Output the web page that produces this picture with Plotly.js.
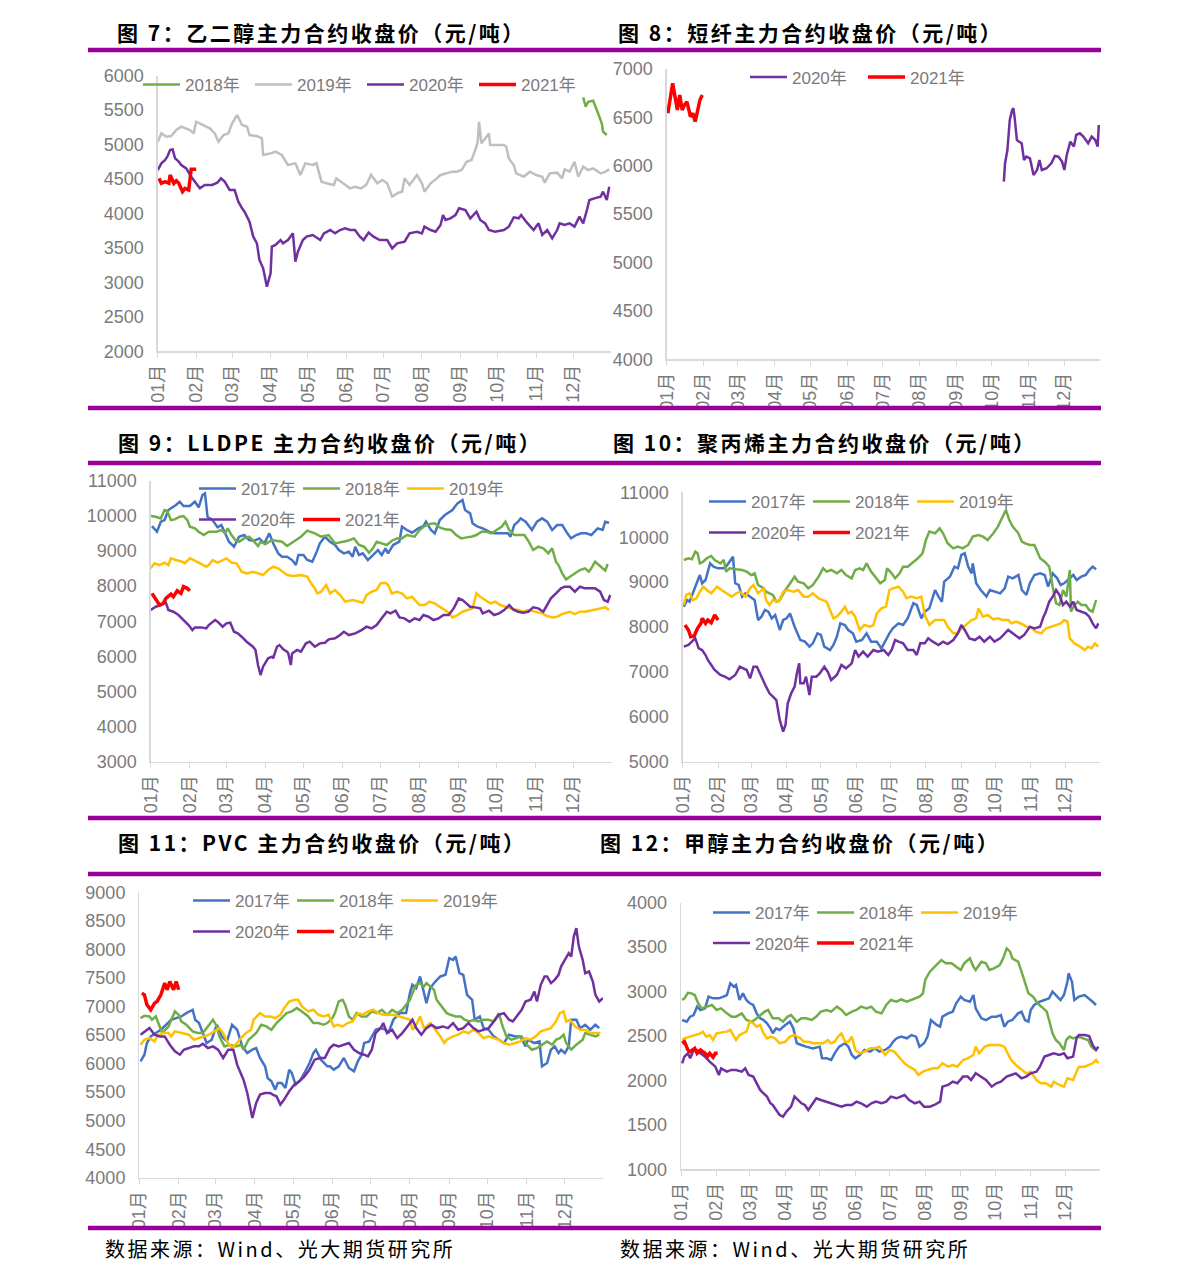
<!DOCTYPE html>
<html><head><meta charset="utf-8">
<script src="https://cdn.plot.ly/plotly-3.0.1.min.js"></script>
<style>
html,body{margin:0;padding:0;background:#fff;}
#chart{width:1191px;height:1279px;}
.annotation-text{letter-spacing:2.5px;}
</style></head>
<body><div id="chart"></div>
<script>
// ---------- DATA (day-of-year offsets from Jan 1, values in 元/吨) ----------
const monthTickFormat = '%m月';
const seriesNames = ['2017年','2018年','2019年','2020年','2021年'];

// 图7 乙二醇
const c7_2018_d = [343,345,347,351,354,356,358,359,362];
const c7_2018_v = [5686,5550,5622,5637,5502,5405,5308,5187,5139];
const c7_2019_d = [0,3,7,11,15,19,26,29,31,37,42,46,49,53,57,60,64,68,72,74,80,84,85,91,95,100,105,111,113,115,119,125,128,132,136,142,144,148,152,155,159,164,168,172,177,181,185,189,194,197,199,203,209,213,215,220,225,228,233,237,241,245,249,253,256,258,259,261,264,267,268,273,279,281,283,287,289,295,300,305,310,312,316,322,326,328,332,336,339,343,347,351,357,361,364];
const c7_2019_v = [5042,5163,5115,5124,5212,5260,5212,5163,5332,5284,5236,5163,5042,5139,5163,5308,5429,5284,5260,5139,5124,5090,4849,4873,4897,4849,4704,4728,4655,4558,4728,4704,4728,4462,4438,4414,4510,4462,4414,4365,4389,4365,4414,4559,4438,4486,4438,4244,4302,4317,4510,4414,4559,4438,4317,4438,4510,4559,4583,4607,4607,4631,4752,4776,4921,5042,5332,5018,5090,5163,4994,4994,4994,4970,4800,4704,4583,4534,4607,4559,4534,4447,4583,4593,4510,4641,4607,4752,4534,4680,4631,4655,4583,4607,4641];
const c7_2020_d = [0,3,6,8,10,12,14,17,19,23,27,31,34,38,44,48,51,54,58,62,65,68,70,74,77,80,82,85,88,91,92,95,99,101,105,109,111,113,117,120,125,131,134,139,143,147,151,155,159,163,166,170,174,179,185,189,193,199,203,209,213,215,220,224,228,230,232,236,240,243,248,252,257,260,264,267,272,279,283,287,291,293,297,303,307,310,314,318,322,324,328,332,336,340,343,346,348,352,357,359,362,364];
const c7_2020_v = [4631,4728,4776,4834,4921,4931,4800,4752,4704,4655,4534,4438,4365,4414,4414,4447,4510,4462,4341,4341,4172,4075,4027,3881,3664,3567,3325,3204,2938,3132,3519,3543,3615,3567,3615,3712,3301,3446,3615,3664,3688,3615,3712,3760,3712,3760,3785,3760,3760,3664,3615,3722,3664,3615,3615,3494,3567,3591,3712,3736,3712,3809,3760,3736,3833,3978,3906,3930,3978,4075,4051,3930,4027,3906,3857,3760,3736,3760,3809,3944,3930,3978,3881,3760,3857,3688,3760,3639,3760,3857,3833,3857,3809,3954,3857,4051,4196,4220,4244,4317,4196,4389];
const c7_2021_d = [1,3,6,9,10,13,15,17,20,22,25,26,27,29,31];
const c7_2021_v = [4510,4438,4462,4438,4559,4438,4476,4438,4317,4365,4341,4486,4641,4641,4641];

// 图8 短纤
const c8_2020_d = [284,285,287,289,291,292,293,295,297,299,301,303,306,309,312,314,316,320,324,327,330,333,335,337,340,343,345,348,351,355,358,361,363,364];
const c8_2020_v = [5836,6025,6163,6473,6576,6594,6507,6266,6249,6232,6060,6094,6077,5905,5956,6060,5956,5974,6025,6101,6094,6043,5956,6111,6249,6198,6318,6335,6301,6232,6301,6266,6198,6421];
const c8_2021_d = [1,3,5,7,9,11,13,15,17,20,22,24,26,28,30];
const c8_2021_v = [6542,6714,6852,6714,6576,6731,6576,6628,6662,6507,6542,6456,6576,6680,6731];

// 图9 LLDPE
const c9_2017_d = [1,5,8,11,14,16,20,23,26,31,35,38,41,43,45,49,53,56,59,62,66,70,74,78,82,86,90,94,97,101,104,108,112,115,117,121,124,128,131,134,138,142,146,149,153,157,160,162,165,168,172,176,180,183,186,188,192,197,199,203,207,212,216,218,222,225,229,233,239,243,247,249,253,255,259,263,268,272,277,283,285,288,291,293,297,302,306,310,314,318,322,326,330,333,337,341,345,349,354,358,360,363];
const c9_2017_v = [9709,9548,9833,9880,10165,10212,10307,10402,10279,10279,10402,10241,10592,10639,9975,9880,9671,9738,9501,9263,9121,9406,9453,9311,9292,9358,9216,9501,9216,8931,8836,8836,8741,8599,8884,8884,8741,8694,8931,9216,9406,9263,9168,9026,8931,8978,8836,9121,8884,8931,8741,8884,9026,8884,9074,8931,9168,9263,9690,9596,9520,9643,9709,9833,9596,9501,9880,10023,10165,10355,10450,10165,10070,9785,9690,9643,9548,9501,9501,9501,9406,9738,9833,9928,9833,9596,9833,9928,9833,9596,9738,9738,9501,9358,9453,9501,9501,9453,9643,9596,9833,9804];
const c9_2018_d = [0,4,8,11,13,16,19,23,26,29,31,35,38,42,46,52,56,59,61,64,67,70,74,78,82,85,87,91,96,100,104,108,113,119,124,130,135,141,146,152,156,161,165,169,173,176,179,183,187,191,195,199,203,209,213,217,221,225,229,233,238,242,246,250,254,258,262,266,270,274,278,281,284,288,292,296,299,303,307,311,315,318,321,323,326,329,332,336,340,344,347,349,352,355,358,360,362];
const c9_2018_v = [9994,9975,9928,10165,10146,9880,9899,9975,9994,9880,9690,9643,9548,9453,9548,9548,9596,9501,9643,9453,9311,9263,9358,9406,9263,9140,9263,9197,9311,9292,9263,9140,9263,9406,9577,9501,9406,9453,9216,9263,9292,9358,9168,9121,8950,9074,9263,9216,9168,9292,9358,9358,9453,9406,9596,9709,9766,9785,9671,9615,9596,9453,9358,9387,9406,9453,9548,9548,9501,9596,9690,9833,9596,9453,9453,9453,9292,9026,9121,9074,8931,9074,8694,8599,8362,8191,8267,8362,8457,8504,8409,8504,8694,8599,8504,8438,8628];
const c9_2019_d = [0,3,7,11,14,16,20,25,27,31,35,40,44,46,49,53,57,60,64,68,72,76,81,85,89,93,97,101,105,108,113,119,124,127,130,132,135,139,142,146,150,154,160,164,168,171,175,179,182,186,188,191,195,199,203,207,213,217,221,225,229,233,236,239,243,247,251,255,258,261,265,269,273,277,281,285,291,295,299,304,310,314,318,322,326,332,336,340,344,348,352,356,360,363];
const c9_2019_v = [8504,8647,8599,8666,8599,8789,8741,8694,8647,8789,8722,8627,8552,8599,8741,8666,8741,8789,8666,8647,8409,8362,8409,8362,8314,8457,8552,8504,8409,8314,8286,8314,8267,8077,7935,7792,7840,8030,7792,7887,7745,7555,7603,7555,7527,7745,7840,7887,8077,8096,8030,7792,7840,7792,7650,7697,7460,7460,7555,7508,7413,7318,7242,7109,7175,7270,7318,7365,7792,7697,7603,7508,7555,7460,7413,7365,7318,7270,7318,7270,7223,7147,7109,7128,7204,7270,7204,7270,7270,7299,7337,7365,7394,7318];
const c9_2020_d = [0,4,8,12,14,18,22,26,30,33,35,40,44,46,51,53,57,60,63,66,69,72,76,81,83,85,87,89,93,96,97,100,102,105,108,109,111,112,116,119,123,126,130,134,138,141,146,150,153,157,162,167,171,175,179,183,187,190,194,197,201,205,209,213,216,220,224,228,232,236,240,244,247,250,253,257,261,263,268,272,276,280,284,287,291,295,299,303,307,311,314,317,321,325,328,332,336,340,344,348,352,356,359,362,364];
const c9_2020_v = [7318,7413,7460,7527,7318,7270,7175,7033,6891,6748,6824,6824,6796,6891,7033,6986,6843,6938,6957,6701,6653,6559,6416,6274,6179,5752,5467,5704,5942,5989,5942,6274,6321,6198,6132,6084,5752,6084,6179,6132,6369,6416,6274,6369,6388,6483,6512,6606,6701,6606,6653,6748,6843,6796,6891,7081,7270,7223,7299,7109,7081,6986,7081,7033,7175,7128,7033,7081,7175,7175,7365,7650,7603,7508,7413,7394,7365,7223,7299,7175,7223,7318,7460,7337,7270,7242,7270,7394,7365,7270,7460,7650,7792,7935,7982,7982,7840,7982,7935,7935,7935,7840,7603,7555,7745];
const c9_2021_d = [1,4,7,10,12,16,18,21,24,26,29,31];
const c9_2021_v = [7792,7603,7460,7508,7650,7773,7697,7868,7792,7982,7935,7868];

// 图10 聚丙烯
const c10_2017_d = [1,4,6,9,12,15,17,20,22,24,27,31,36,38,41,44,46,49,52,55,59,63,66,69,72,75,78,81,85,88,91,94,98,103,107,111,114,118,121,124,129,132,135,138,142,145,149,152,157,161,165,170,174,177,181,184,189,193,197,202,205,209,212,216,221,224,227,229,234,238,241,244,247,250,253,254,257,261,266,269,273,278,282,285,289,294,297,301,304,308,313,317,320,324,328,331,334,337,342,345,349,353,356,359,362];
const c10_2017_v = [8453,8601,8564,8750,8936,9158,8973,9047,9233,9418,9344,9307,9307,9344,9455,9567,8973,8936,8676,8750,8676,8601,8156,8230,8379,8341,8193,8267,7933,8156,8193,8304,8007,7710,7673,7562,7636,7859,7822,7562,7487,7599,7784,8081,8044,7933,7859,7673,7710,7859,7673,7673,7524,7673,7859,7970,8081,8044,8193,8527,8490,8193,8341,8416,8824,8676,8564,9010,9121,9344,9307,9604,9641,9344,9195,9418,8973,8824,8676,8824,8787,8750,8861,9121,9084,9158,8824,8713,8973,9158,9195,9158,8898,9195,9084,8936,8973,9047,9158,9047,9121,9158,9270,9344,9285];
const c10_2018_d = [1,5,8,11,13,15,18,21,25,28,33,36,38,41,47,52,56,60,63,66,71,73,76,79,82,85,90,94,98,101,106,110,114,119,123,126,130,135,139,143,148,151,155,158,161,165,170,173,177,179,183,186,190,193,197,202,206,210,213,216,221,225,228,232,237,241,245,250,254,259,263,267,272,276,280,283,286,289,294,297,300,304,308,313,317,321,324,327,330,333,336,339,340,343,346,349,353,356,359,362];
const c10_2018_v = [9493,9530,9507,9678,9641,9418,9455,9530,9582,9493,9418,9493,9233,9307,9285,9270,9233,9158,9195,8936,8861,8787,8750,8713,8564,8601,8824,8973,9121,9010,8973,8861,8936,9121,9307,9233,9270,9195,9270,9158,9084,9270,9307,9270,9418,9233,9084,8973,9047,9307,9195,9084,9195,9344,9344,9455,9530,9641,9938,10124,10087,10198,10087,9864,9752,9790,9752,9827,10012,10049,10012,9938,10087,10235,10458,10606,10384,10235,10087,9901,9864,9827,9827,9530,9455,9344,8898,8527,8490,8824,8676,9270,8341,8490,8564,8490,8490,8379,8341,8601];
const c10_2019_d = [1,3,6,9,12,15,18,21,25,30,34,38,43,47,50,55,59,62,66,71,73,76,79,84,88,92,97,101,106,110,114,119,123,126,129,132,135,139,142,145,148,151,155,159,164,167,170,174,178,181,184,189,193,196,200,205,209,212,216,221,225,229,232,237,241,244,248,253,257,259,263,267,272,276,280,285,288,292,297,301,305,309,314,318,323,327,331,334,337,339,343,348,352,355,358,361,364];
const c10_2019_v = [8490,8713,8750,8601,8639,8787,8898,8824,8750,8898,8824,8750,8676,8750,8787,8676,8861,8936,8750,8861,8601,8490,8601,8564,8787,8824,8787,8824,8676,8676,8750,8639,8601,8564,8379,8193,8230,8341,8453,8304,8341,8230,7933,8044,8007,8044,8304,8416,8453,8824,8861,8898,8787,8639,8676,8639,8676,8267,8044,8156,8156,8156,8007,7859,7859,7970,8044,8156,8193,8416,8230,8267,8171,8193,8156,8156,8081,8119,8067,8007,7993,7896,7859,7970,8007,8044,8081,8156,8119,7747,7636,7562,7487,7562,7524,7636,7562];
const c10_2020_d = [1,5,8,11,14,17,20,22,25,28,33,37,41,46,50,53,56,59,62,65,68,71,73,76,79,82,85,88,90,92,95,98,100,102,103,106,108,111,113,117,120,124,127,130,135,139,143,148,151,154,158,162,167,171,176,180,183,186,189,193,197,202,205,208,212,215,219,224,228,232,237,241,244,247,251,256,260,264,269,273,278,282,285,289,295,299,304,308,313,316,318,321,324,327,330,333,336,339,342,345,349,353,356,359,362,364];
const c10_2020_v = [7562,7599,7673,7747,7524,7487,7376,7265,7153,7042,6931,6893,6834,6931,7116,7079,7042,6856,7116,7116,6931,6782,6671,6522,6448,6374,5928,5668,5817,6299,6522,6671,6968,7190,6745,6745,6893,6485,6893,6893,6968,7116,7005,6819,6931,7153,7079,7190,7487,7339,7450,7339,7487,7450,7487,7376,7487,7710,7673,7636,7487,7487,7376,7636,7636,7747,7673,7599,7673,7621,7710,7859,8044,7933,7747,7710,7784,7673,7784,7673,7747,7859,7933,7859,7747,7822,8007,7970,8007,8230,8341,8564,8676,8824,8713,8490,8564,8453,8564,8379,8341,8304,8230,8081,7970,8081];
const c10_2021_d = [2,5,7,10,13,16,17,20,22,25,28,31];
const c10_2021_v = [8044,7933,7784,7799,7970,8081,8193,8081,8156,8096,8267,8156];

// 图11 PVC
const c11_2017_d = [1,4,6,9,13,17,21,25,29,33,37,42,44,47,50,53,57,61,65,69,73,77,81,85,89,92,95,99,101,104,107,109,112,115,118,120,123,127,130,134,137,139,143,148,150,153,157,161,165,169,172,175,177,181,186,190,194,196,200,205,210,213,215,218,221,224,226,229,233,237,241,244,247,249,252,255,258,262,264,268,271,275,279,283,287,291,296,300,304,306,311,315,317,321,324,327,330,332,335,338,340,344,347,351,355,359,362];
const c11_2017_v = [6039,6156,6360,6476,6535,6593,6680,6768,6797,6826,6884,6943,6768,6710,6535,6360,6418,6680,6476,6389,6680,6593,6302,6185,6243,6272,6098,5952,5748,5690,5544,5661,5661,5573,5894,5836,5631,5719,5836,6010,6185,6243,6069,5952,5952,5894,5952,6098,5923,5865,6039,6156,6360,6389,6593,6622,6593,6535,6768,6884,6884,7234,7380,7322,7526,7234,7059,7322,7438,7526,7555,7846,7817,7875,7584,7555,7205,7118,6768,6826,6622,6593,6476,6418,6360,6506,6476,6476,6302,6418,6360,6389,5952,6010,6243,6302,6185,6243,6185,6302,6768,6768,6622,6680,6593,6680,6622];
const c11_2018_d = [1,4,8,10,13,16,18,23,25,28,31,33,37,42,46,50,54,58,61,63,67,71,76,80,82,86,89,92,96,100,104,108,112,116,120,124,128,133,137,141,145,148,152,154,157,160,162,165,168,171,175,179,183,187,191,195,199,203,207,210,213,215,218,221,224,226,229,232,234,237,240,242,245,249,253,256,260,263,267,271,275,279,283,286,289,293,297,301,305,309,313,317,321,325,328,331,334,336,340,344,349,351,355,359,362];
const c11_2018_v = [6797,6838,6826,6768,6826,6651,6535,6651,6768,6914,6855,6739,6680,6564,6535,6535,6651,6768,6651,6476,6302,6331,6302,6331,6243,6418,6476,6535,6680,6651,6593,6710,6797,6884,6914,6972,6914,6826,6710,6710,6680,6710,6797,6884,7088,7118,7030,6826,6768,6884,6826,6826,6914,6884,6943,6855,6943,6884,6943,7030,7118,7234,7380,7409,7351,7409,7351,7292,7118,7030,6943,6884,6855,6826,6826,6768,6739,6768,6739,6768,6768,6739,6884,6651,6476,6418,6447,6476,6331,6243,6272,6331,6389,6331,6418,6447,6506,6360,6243,6331,6418,6535,6506,6476,6506];
const c11_2019_d = [1,4,8,12,14,18,23,25,28,33,39,43,47,51,55,59,63,66,69,73,77,80,84,88,90,95,99,103,107,111,114,118,122,125,128,133,137,141,145,149,153,156,160,164,168,172,176,180,184,188,192,196,200,205,209,213,215,218,221,224,226,229,233,237,240,242,247,251,255,259,263,267,271,275,279,283,287,291,296,300,304,308,312,316,320,324,328,331,334,336,339,343,347,351,355,359,363];
const c11_2019_v = [6331,6418,6447,6389,6476,6535,6535,6476,6564,6535,6506,6418,6447,6476,6506,6564,6622,6535,6389,6272,6360,6447,6535,6593,6768,6884,6826,6826,6797,6855,6972,7088,7118,7118,7001,6914,6943,6855,6826,6855,6651,6680,6651,6710,6739,6884,6855,6914,6943,6884,6855,6855,6855,6826,6797,6768,6593,6680,6826,6622,6651,6710,6593,6476,6360,6418,6476,6506,6564,6535,6593,6535,6447,6476,6447,6418,6360,6331,6360,6389,6447,6418,6476,6564,6593,6622,6739,6884,6914,6739,6768,6651,6593,6593,6535,6535,6535];
const c11_2020_d = [1,5,8,12,16,20,24,28,32,35,39,43,47,50,54,58,62,66,70,74,77,80,82,85,88,89,92,95,99,103,105,108,111,114,118,122,126,130,134,138,142,146,150,153,157,161,165,169,173,177,180,183,186,190,192,195,199,203,207,211,215,218,222,226,230,234,239,243,247,251,255,259,263,267,271,275,279,283,287,291,294,297,301,304,308,311,313,316,319,321,324,327,330,332,335,338,340,342,344,346,349,351,354,357,359,362,365];
const c11_2020_v = [6506,6564,6622,6506,6476,6476,6331,6214,6156,6243,6272,6302,6302,6348,6272,6302,6243,6098,6243,6243,5981,5836,5719,5486,5194,5049,5311,5457,5486,5486,5457,5428,5282,5369,5515,5631,5690,5777,5894,6069,6098,6098,6272,6331,6302,6331,6360,6243,6185,6156,6127,6243,6535,6622,6710,6535,6593,6447,6535,6651,6768,6622,6506,6622,6680,6622,6651,6622,6710,6593,6622,6710,6622,6564,6593,6622,6739,6855,6884,6768,6739,6826,6943,7088,7118,7263,7088,7380,7526,7526,7409,7467,7555,7700,7817,7933,7875,8225,8371,8050,7817,7584,7613,7438,7205,7088,7147];
const c11_2021_d = [2,4,6,9,12,14,17,20,22,24,27,29,31];
const c11_2021_v = [7234,7205,7030,6943,7059,7088,7205,7409,7292,7438,7292,7438,7292];

// 图12 甲醇
const c12_2017_d = [1,5,8,11,14,17,21,24,28,33,37,40,43,46,48,51,54,57,60,63,66,69,72,75,78,80,83,86,91,95,98,101,105,109,115,121,123,127,131,134,138,143,146,149,152,156,160,165,169,173,178,182,185,188,192,197,201,205,208,212,215,218,223,226,228,233,237,240,244,247,252,255,257,262,266,271,275,279,282,285,289,294,297,300,303,305,308,313,317,321,324,328,331,334,337,338,341,343,347,352,356,359,362];
const c12_2017_v = [2680,2661,2718,2736,2830,2793,2811,2943,2924,2924,2943,2961,3093,3055,3074,2905,2980,2905,2868,2849,2755,2699,2680,2643,2586,2530,2586,2568,2624,2661,2586,2418,2399,2380,2361,2380,2249,2249,2230,2305,2380,2418,2380,2286,2249,2286,2343,2324,2361,2324,2343,2380,2436,2474,2493,2474,2511,2493,2380,2418,2493,2680,2624,2605,2718,2755,2774,2868,2943,2905,2886,2961,2811,2699,2680,2718,2718,2736,2605,2661,2680,2755,2774,2680,2661,2793,2849,2886,2905,2924,2999,2943,2905,2961,3111,3205,3111,2905,2943,2961,2924,2886,2849];
const c12_2018_d = [1,3,6,9,12,15,18,22,27,31,35,40,44,48,53,57,62,66,69,73,76,80,85,89,93,96,101,105,109,114,118,122,127,131,136,140,144,149,153,157,162,166,170,175,179,183,188,192,197,201,205,208,211,213,217,221,224,227,231,236,240,244,247,252,255,257,262,266,269,273,278,281,284,287,289,294,297,300,303,307,311,316,319,321,324,327,330,334,336,339,342,346,350,355,358,361];
const c12_2018_v = [2905,2924,2986,2980,2961,2868,2811,2830,2849,2793,2811,2755,2718,2718,2755,2680,2661,2699,2736,2774,2793,2699,2699,2661,2718,2736,2661,2699,2699,2680,2718,2774,2793,2774,2830,2793,2736,2774,2793,2830,2811,2830,2774,2755,2849,2905,2886,2911,2886,2905,2924,2943,2980,3130,3224,3280,3318,3355,3318,3318,3280,3243,3318,3374,3280,3243,3336,3318,3243,3261,3299,3374,3486,3449,3374,3336,3224,3111,2980,2943,2868,2811,2774,2680,2530,2455,2418,2343,2455,2493,2474,2493,2474,2455,2380,2343];
const c12_2019_d = [1,3,8,12,17,19,22,25,28,31,35,40,43,46,48,51,54,57,60,63,66,69,72,75,78,82,86,91,95,99,104,107,111,115,120,124,128,131,134,137,140,143,146,149,152,156,160,165,169,173,178,182,186,191,195,199,204,207,211,215,220,224,228,233,237,241,246,250,255,257,260,265,269,273,278,282,285,288,292,297,301,305,310,314,318,323,325,330,334,337,342,345,347,352,356,359,362,364];
const c12_2019_v = [2455,2474,2493,2511,2530,2549,2493,2511,2455,2530,2538,2549,2568,2493,2455,2511,2530,2549,2661,2643,2605,2624,2530,2474,2493,2474,2418,2436,2493,2511,2474,2436,2436,2418,2418,2418,2455,2418,2436,2493,2530,2436,2436,2493,2343,2305,2324,2361,2361,2380,2286,2343,2324,2249,2193,2155,2118,2061,2099,2118,2136,2136,2193,2155,2174,2155,2230,2249,2286,2380,2305,2380,2399,2399,2399,2380,2305,2230,2174,2118,2080,2099,2005,1968,1968,1930,1986,1949,1930,2024,2005,2099,2155,2155,2174,2193,2230,2193];
const c12_2020_d = [1,3,6,8,11,14,17,21,25,30,33,35,40,44,48,53,56,59,63,66,69,72,75,78,80,83,86,89,92,96,99,102,105,108,111,114,118,122,127,131,136,140,144,149,153,157,162,166,170,175,179,183,188,192,195,199,204,208,212,217,221,226,228,233,237,241,246,250,253,257,262,266,271,275,279,284,288,292,297,301,305,310,313,317,321,325,330,334,337,342,345,347,352,356,359,362,364];
const c12_2020_v = [2193,2268,2305,2249,2343,2343,2305,2268,2211,2155,2061,2136,2099,2118,2118,2099,2136,2061,2043,1968,1893,1855,1818,1743,1724,1668,1611,1593,1649,1705,1818,1780,1743,1724,1668,1724,1799,1780,1761,1743,1724,1705,1724,1724,1761,1743,1705,1743,1761,1743,1761,1818,1799,1818,1836,1780,1743,1761,1705,1705,1724,1761,1930,1949,1986,1968,2043,2043,2005,2080,2043,2005,1930,1968,1986,2043,2061,2080,2024,2043,2080,2099,2155,2268,2286,2305,2286,2305,2249,2268,2474,2511,2511,2499,2399,2343,2380];
const c12_2021_d = [1,3,6,8,10,12,14,17,19,21,23,25,28,30,32];
const c12_2021_v = [2418,2436,2343,2324,2343,2361,2305,2343,2324,2305,2268,2305,2261,2305,2305];

// ---------- TEXT ----------
const titles = ['图 7：乙二醇主力合约收盘价（元/吨）','图 8：短纤主力合约收盘价（元/吨）','图 9：LLDPE 主力合约收盘价（元/吨）','图 10：聚丙烯主力合约收盘价（元/吨）','图 11：PVC 主力合约收盘价（元/吨）','图 12：甲醇主力合约收盘价（元/吨）'];
const sourceText = '数据来源：Wind、光大期货研究所';

// ---------- STYLE / LAYOUT ----------
const W = 1191, H = 1279;
const px = v => v / W, py = v => 1 - v / H;
const COL = {'2017年':'#4472C4','2018年':'#70AD47','2019年':'#FFC000','2020年':'#7030A0','2021年':'#FF0000'};
const GRAY19 = '#BFBFBF';
const TXT = '#7a7a7a';
const FONT = 'Liberation Sans, Arial, Noto Sans CJK SC, sans-serif';

function toDate(d){ const t = new Date(Date.UTC(2020,0,1+d)); return t.toISOString().slice(0,10); }

// panel geometry: [x0,x1,yTopPx,yBotPx,ymin,ymax,dtick]
const panels = [
  [157.7,610.5, 75.7,351.3, 2000,6000,500],
  [666.7,1100, 69.0,359.3, 4000,7000,500],
  [150.7,611.5, 480.7,761.7, 3000,11000,1000],
  [682.7,1099.5, 492.3,761.7, 5000,11000,1000],
  [139.3,603, 892.3,1177.8, 4000,9000,500],
  [681,1099.5, 902.7,1169.3, 1000,4000,500]
];

const traces = [];
function add(p, d, v, name, color, legend, width){
  const ax = p===0 ? '' : String(p+1);
  traces.push({type:'scatter', mode:'lines', x:d.map(toDate), y:v, name:name,
    xaxis:'x'+ax, yaxis:'y'+ax, legend:legend, showlegend:true,
    line:{color:color, width:width||2.5}, hoverinfo:'skip'});
}
// chart 7
add(0,c7_2018_d,c7_2018_v,'2018年',COL['2018年'],'legend');
add(0,c7_2019_d,c7_2019_v,'2019年',GRAY19,'legend');
add(0,c7_2020_d,c7_2020_v,'2020年',COL['2020年'],'legend');
add(0,c7_2021_d,c7_2021_v,'2021年',COL['2021年'],'legend',3.5);
// chart 8
add(1,c8_2020_d,c8_2020_v,'2020年',COL['2020年'],'legend2');
add(1,c8_2021_d,c8_2021_v,'2021年',COL['2021年'],'legend2',3.5);
// charts 9-12
const multi = [
  [2,[c9_2017_d,c9_2017_v],[c9_2018_d,c9_2018_v],[c9_2019_d,c9_2019_v],[c9_2020_d,c9_2020_v],[c9_2021_d,c9_2021_v],'legend3','legend4'],
  [3,[c10_2017_d,c10_2017_v],[c10_2018_d,c10_2018_v],[c10_2019_d,c10_2019_v],[c10_2020_d,c10_2020_v],[c10_2021_d,c10_2021_v],'legend5','legend6'],
  [4,[c11_2017_d,c11_2017_v],[c11_2018_d,c11_2018_v],[c11_2019_d,c11_2019_v],[c11_2020_d,c11_2020_v],[c11_2021_d,c11_2021_v],'legend7','legend8'],
  [5,[c12_2017_d,c12_2017_v],[c12_2018_d,c12_2018_v],[c12_2019_d,c12_2019_v],[c12_2020_d,c12_2020_v],[c12_2021_d,c12_2021_v],'legend9','legend10']
];
multi.forEach(m=>{
  for(let i=0;i<5;i++){
    const s = m[1+i]; const nm = seriesNames[i];
    add(m[0], s[0], s[1], nm, COL[nm], i<3 ? m[6] : m[7], i===4 ? 3.5 : 2.5);
  }
});

const layout = {width:W, height:H, margin:{l:0,r:0,t:0,b:0}, paper_bgcolor:'#fff', plot_bgcolor:'rgba(0,0,0,0)',
  hovermode:false, showlegend:true, font:{family:FONT, color:TXT}, shapes:[], annotations:[]};

panels.forEach((p,i)=>{
  const ax = i===0 ? '' : String(i+1);
  layout['xaxis'+ax] = {domain:[px(p[0]),px(p[1])], anchor:'y'+ax, type:'date',
    range:['2020-01-01','2020-12-31'], tick0:'2020-01-01', dtick:'M1', tickformat:monthTickFormat,
    tickangle:-90, ticks:'outside', ticklen:5, tickcolor:'#d9d9d9', showline:true, linecolor:'#d9d9d9', linewidth:1.3,
    showgrid:false, zeroline:false, tickfont:{size:18, color:TXT, family:FONT}, fixedrange:true};
  layout['yaxis'+ax] = {domain:[py(p[3]),py(p[2])], anchor:'x'+ax, range:[p[4],p[5]], dtick:p[6], tick0:0,
    tickformat:'d', showline:true, linecolor:'#d9d9d9', linewidth:1.3, showgrid:false, zeroline:false, ticks:'',
    ticklabelstandoff:9, tickfont:{size:18, color:TXT, family:FONT}, fixedrange:true};
});

// legends
const IW = 37;
function leg(x, y, ew){
  return {x:px(x-5), y:py(y), xanchor:'left', yanchor:'middle', orientation:'h', entrywidth:ew,
    itemwidth:IW, bgcolor:'rgba(0,0,0,0)', borderwidth:0, tracegroupgap:0,
    font:{size:17, color:TXT, family:FONT}, traceorder:'normal'};
}
layout.legend = leg(143, 85, 60);
layout.legend2 = leg(750, 77.5, 66);
layout.legend3 = leg(199, 489, 52);
layout.legend4 = leg(199, 520, 52);
layout.legend5 = leg(709, 502, 52);
layout.legend6 = leg(709, 533, 52);
layout.legend7 = leg(193, 901, 52);
layout.legend8 = leg(193, 932, 52);
layout.legend9 = leg(713, 913, 52);
layout.legend10 = leg(713, 943.5, 52);

// purple separator bars
const barY = [50, 408, 463, 818, 874, 1228];
barY.forEach(y=>layout.shapes.push({type:'line', xref:'paper', yref:'paper', x0:px(88), x1:px(1101), y0:py(y), y1:py(y),
  line:{color:'#990099', width:4.5}}));

// titles
const titlePos = [[115,32],[616,32],[116,442],[611,442],[116,842],[598,842]];
titles.forEach((t,i)=>layout.annotations.push({text:'<b>'+t+'</b>', xref:'paper', yref:'paper',
  x:px(titlePos[i][0]), y:py(titlePos[i][1]), xanchor:'left', yanchor:'middle', showarrow:false,
  font:{size:21, color:'#000', family:'Noto Sans CJK SC, sans-serif'}}));
[[103,1248],[618,1248]].forEach(p=>layout.annotations.push({text:sourceText, xref:'paper', yref:'paper',
  x:px(p[0]), y:py(p[1]), xanchor:'left', yanchor:'middle', showarrow:false,
  font:{size:20, color:'#000', family:'Noto Sans CJK SC, sans-serif'}}));

Plotly.newPlot('chart', traces, layout, {staticPlot:true, displayModeBar:false});
</script></body></html>
